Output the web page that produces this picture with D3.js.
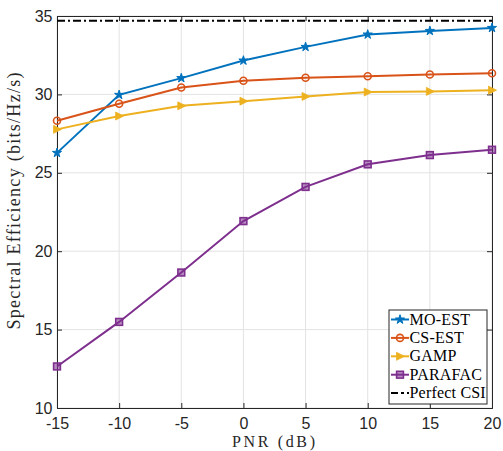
<!DOCTYPE html>
<html><head><meta charset="utf-8">
<script src="https://cdn.jsdelivr.net/npm/d3@7"></script>
<style>body{margin:0;background:#fff}</style>
</head><body>
<script>
const pnr = [-15, -10, -5, 0, 5, 10, 15, 20];
const moEst = [26.27, 29.97, 31.04, 32.16, 33.03, 33.82, 34.05, 34.24];
const csEst = [28.32, 29.40, 30.44, 30.87, 31.06, 31.16, 31.27, 31.35];
const gamp = [27.77, 28.62, 29.27, 29.57, 29.87, 30.15, 30.19, 30.27];
const parafac = [12.65, 15.49, 18.64, 21.92, 24.10, 25.54, 26.13, 26.47];
const perfectCSI = 34.7;
const xTicks = [-15, -10, -5, 0, 5, 10, 15, 20];
const yTicks = [10, 15, 20, 25, 30, 35];
const seriesNames = ["MO-EST", "CS-EST", "GAMP", "PARAFAC", "Perfect CSI"];

const W = 503, H = 451;
const m = {l: 57, r: 492, t: 16, b: 408};
const svg = d3.select("body").append("svg").attr("width", W).attr("height", H);
const x = d3.scaleLinear().domain([-15, 20]).range([m.l, m.r]);
const y = d3.scaleLinear().domain([10, 35]).range([m.b, m.t]);
const axisCol = "#262626";
const tickFont = "'Liberation Sans', Arial, sans-serif";
const serif = "'Liberation Serif', 'DejaVu Serif', serif";
const fmt = d => String(d);

// grid
const g = svg.append("g");
g.selectAll(".gx").data(xTicks).join("line")
  .attr("x1", d => x(d)).attr("x2", d => x(d)).attr("y1", m.t).attr("y2", m.b)
  .attr("stroke", "#e3e3e3").attr("stroke-width", 1);
g.selectAll(".gy").data(yTicks).join("line")
  .attr("y1", d => y(d)).attr("y2", d => y(d)).attr("x1", m.l).attr("x2", m.r)
  .attr("stroke", "#e3e3e3").attr("stroke-width", 1);

// axes (ticks inside)
const xAx = d3.axisBottom(x).tickValues(xTicks).tickSize(-5).tickPadding(10).tickFormat(fmt);
const yAx = d3.axisLeft(y).tickValues(yTicks).tickSize(-5).tickPadding(4.5).tickFormat(fmt);
const xTop = d3.axisTop(x).tickValues(xTicks).tickSize(-5).tickFormat("");
const yRight = d3.axisRight(y).tickValues(yTicks).tickSize(-5).tickFormat("");
function style(sel){
  sel.select(".domain").attr("stroke", axisCol).attr("stroke-width", 1);
  sel.selectAll(".tick line").attr("stroke", axisCol);
  sel.selectAll("text").attr("fill", axisCol).style("font-family", tickFont).style("font-size", "16px");
}
svg.append("g").attr("transform", `translate(0,${m.b})`).call(xAx).call(style);
svg.append("g").attr("transform", `translate(${m.l},0)`).call(yAx).call(style);
svg.append("g").attr("transform", `translate(0,${m.t})`).call(xTop).call(style);
svg.append("g").attr("transform", `translate(${m.r},0)`).call(yRight).call(style);

// data
const series = [
  {name: seriesNames[0], v: moEst, c: "#0072BD", sym: "star"},
  {name: seriesNames[1], v: csEst, c: "#D95319", sym: "circle"},
  {name: seriesNames[2], v: gamp, c: "#EDB120", sym: "tri"},
  {name: seriesNames[3], v: parafac, c: "#7E2F8E", sym: "square"}
];
const line = d3.line().x(d => x(d[0])).y(d => y(d[1]));

function drawMarker(sel, s, cx, cy) {
  if (s.sym === "star") {
    sel.append("path").attr("d", d3.symbol(d3.symbolStar, 26)())
      .attr("transform", `translate(${cx},${cy})`).attr("fill", s.c).attr("stroke", s.c).attr("stroke-width", 1);
  } else if (s.sym === "circle") {
    sel.append("circle").attr("cx", cx).attr("cy", cy).attr("r", 3.5)
      .attr("fill", "none").attr("stroke", s.c).attr("stroke-width", 1.6);
  } else if (s.sym === "tri") {
    sel.append("path").attr("d", `M${cx-3.5},${cy-4}L${cx+4.5},${cy}L${cx-3.5},${cy+4}Z`)
      .attr("fill", s.c).attr("stroke", s.c).attr("stroke-width", 0.8);
  } else {
    sel.append("rect").attr("x", cx-3.4).attr("y", cy-3.4).attr("width", 6.8).attr("height", 6.8)
      .attr("fill", s.c).attr("fill-opacity", 0.55).attr("stroke", s.c).attr("stroke-width", 1.6);
  }
}

// perfect CSI
svg.append("line").attr("x1", x(-15)).attr("x2", x(20)).attr("y1", y(perfectCSI)).attr("y2", y(perfectCSI))
  .attr("stroke", "#000").attr("stroke-width", 2).attr("stroke-dasharray", "8,3,2,3");

series.forEach(s => {
  const pts = pnr.map((p, i) => [p, s.v[i]]);
  svg.append("path").datum(pts).attr("d", line).attr("fill", "none")
    .attr("stroke", s.c).attr("stroke-width", 2);
  const mg = svg.append("g");
  pts.forEach(p => drawMarker(mg, s, x(p[0]), y(p[1])));
});

// legend
const lg = svg.append("g");
const lx = 389, ly = 310, lw = 98, lh = 94;
lg.append("rect").attr("x", lx).attr("y", ly).attr("width", lw).attr("height", lh)
  .attr("fill", "#fff").attr("stroke", axisCol).attr("stroke-width", 1);
const rowY = i => ly + 9.5 + i * 18.4;
function legText(yy, t) {
  lg.append("text").attr("x", lx + 20.5).attr("y", yy + 5).text(t)
    .style("font-family", serif).style("font-size", "16px").style("letter-spacing", "0.2px").attr("fill", "#000");
}
series.forEach((s, i) => {
  const yy = rowY(i);
  lg.append("line").attr("x1", lx + 2).attr("x2", lx + 20).attr("y1", yy).attr("y2", yy)
    .attr("stroke", s.c).attr("stroke-width", 2);
  drawMarker(lg, s, lx + 11, yy);
  legText(yy, s.name);
});
{
  const yy = rowY(4);
  lg.append("line").attr("x1", lx + 2).attr("x2", lx + 20).attr("y1", yy).attr("y2", yy)
    .attr("stroke", "#000").attr("stroke-width", 2).attr("stroke-dasharray", "7,3,3,3");
  legText(yy, seriesNames[4]);
}

// axis labels
svg.append("text").attr("x", (m.l + m.r) / 2 - 1).attr("y", 446.5).attr("text-anchor", "middle")
  .attr("textLength", 83).attr("lengthAdjust", "spacing")
  .style("font-family", serif).style("font-size", "16px").attr("fill", axisCol).text("PNR (dB)");
svg.append("text").attr("transform", `translate(20,201) rotate(-90)`).attr("text-anchor", "middle")
  .attr("textLength", 257).attr("lengthAdjust", "spacing")
  .style("font-family", serif).style("font-size", "18px").attr("fill", axisCol).text("Spectral Efficiency (bits/Hz/s)");
</script>
</body></html>
